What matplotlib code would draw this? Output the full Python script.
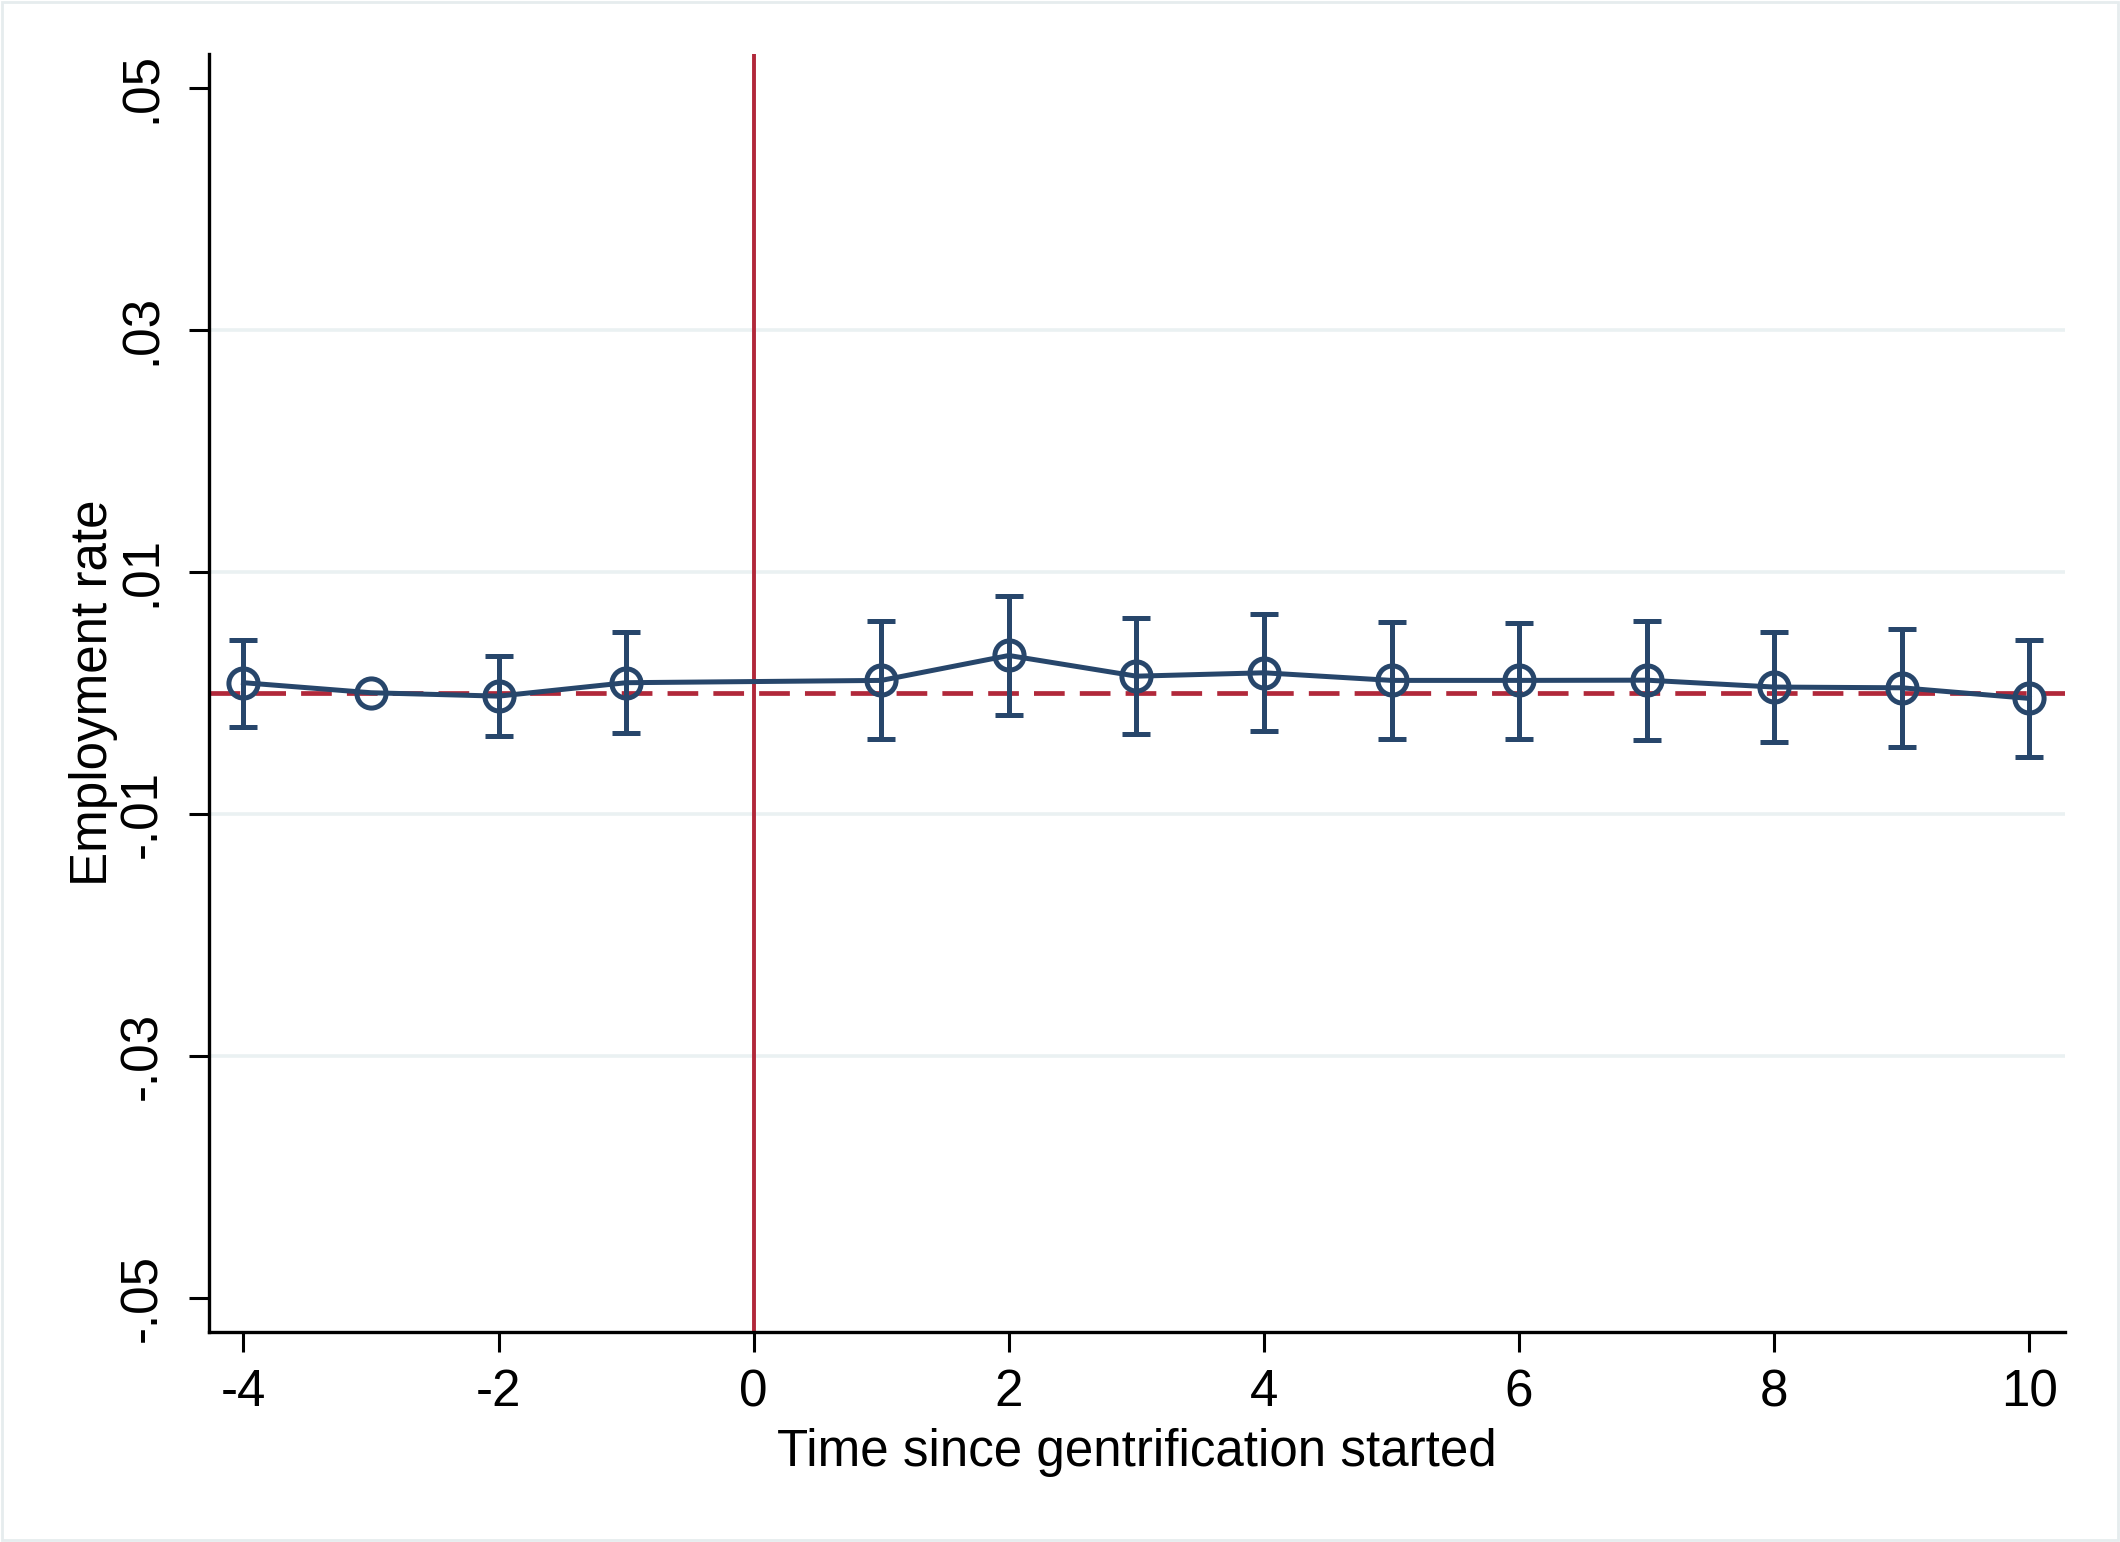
import numpy as np
import matplotlib
matplotlib.use("Agg")
import matplotlib.pyplot as plt

# Event-study estimates (employment rate)
years = [-4, -3, -2, -1, 1, 2, 3, 4, 5, 6, 7, 8, 9, 10]
coef = [0.00083, 0.0, -0.00028, 0.00083, 0.00102, 0.00308, 0.00137, 0.00165,
        0.00102, 0.00102, 0.00104, 0.00047, 0.00041, -0.00047]
ci_hi = [0.0044, np.nan, 0.0030, 0.0050, 0.0059, 0.0080, 0.0062, 0.00655,
         0.00584, 0.0058, 0.00595, 0.0050, 0.0053, 0.0044]
ci_lo = [-0.0028, np.nan, -0.0036, -0.0033, -0.0038, -0.00188, -0.0034, -0.0032,
         -0.00386, -0.0038, -0.0039, -0.0041, -0.0045, -0.0053]

xticks = [-4, -2, 0, 2, 4, 6, 8, 10]
yticks = [-0.05, -0.03, -0.01, 0.01, 0.03, 0.05]
ytick_labels = ["-.05", "-.03", "-.01", ".01", ".03", ".05"]

navy = "#27466B"
red = "#B1283A"
grid = "#EAF1F2"

plt.rcParams["font.family"] = ["Liberation Sans", "DejaVu Sans"]
plt.rcParams["axes.unicode_minus"] = False

fig = plt.figure(figsize=(10.6, 7.71), dpi=200)
ax = fig.add_axes([0.0986, 0.1365, 0.8755, 0.8285])

coef = np.array(coef)
lo = coef - np.array(ci_lo)
hi = np.array(ci_hi) - coef

# gridlines (not at the outer ticks)
for y in yticks[1:-1]:
    ax.axhline(y, color=grid, lw=1.3, zorder=0)

ax.axvline(0, color=red, lw=1.4, zorder=1)
ax.axhline(0, color=red, lw=1.7, dashes=(6.5, 3.2), zorder=1)

ax.errorbar(years, coef, yerr=[lo, hi], fmt="none", ecolor=navy,
            elinewidth=1.8, capsize=5, capthick=1.8, zorder=2)
ax.plot(years, coef, color=navy, lw=1.8, marker="o", ms=10.5,
        mfc="none", mec=navy, mew=1.8, zorder=3)

ax.set_xlim(-4.27, 10.28)
ax.set_ylim(-0.0528, 0.0528)
ax.set_xticks(xticks)
ax.set_yticks(yticks)
ax.set_yticklabels(ytick_labels, rotation=90, va="center")

for s in ["top", "right"]:
    ax.spines[s].set_visible(False)
for s in ["left", "bottom"]:
    ax.spines[s].set_linewidth(1.2)

ax.tick_params(axis="both", direction="out", length=7.2, width=1.1,
               labelsize=18.4, color="black")
ax.tick_params(axis="x", pad=6)
ax.tick_params(axis="y", pad=8)

ax.set_xlabel("Time since gentrification started", fontsize=18.4, labelpad=4)
ax.set_ylabel("Employment rate", fontsize=18.4, labelpad=0)

# faint frame around the graph region
fig.patches.append(plt.Rectangle((0.001, 0.001), 0.998, 0.998,
                                 transform=fig.transFigure, fill=False,
                                 edgecolor="#E6ECEE", lw=1.0))

fig.savefig("out.png", dpi=200, facecolor="white")
